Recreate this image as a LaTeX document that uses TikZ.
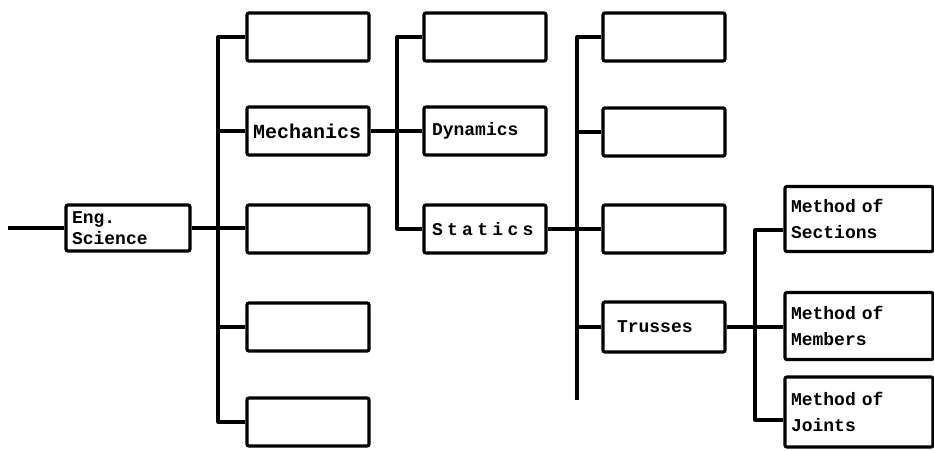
\documentclass[tikz,border=0pt]{standalone}
\usepackage{fontspec}
\setmonofont{Liberation Mono}
\begin{document}
\begin{tikzpicture}[x=1pt,y=-1pt,
  box/.style={draw, line width=3.2pt, rounded corners=2pt, inner xsep=6pt, inner ysep=2pt,
    align=left, font=\ttfamily\bfseries\fontsize{18}{21}\selectfont, minimum height=48pt},
  colbox/.style={box, text width=110pt},
  bigbox/.style={box, text width=136pt, font=\ttfamily\bfseries\fontsize{18}{26}\selectfont},
  link/.style={line width=3.2pt, line join=round, line cap=butt}]
\useasboundingbox (0,0) rectangle (934,450);

% nodes
\node[box, text width=112pt, minimum height=46pt] (eng) at (128,228) {\raisebox{-4pt}{\parbox[b]{112pt}{Eng.\\Science}}};

\node[colbox] (c1a) at (308,37) {};
\node[colbox, font=\ttfamily\bfseries\fontsize{20}{22}\selectfont] (c1b) at (308,131) {Mechanics};
\node[colbox] (c1c) at (308,229) {};
\node[colbox] (c1d) at (308,327) {};
\node[colbox] (c1e) at (308,422) {};

\node[colbox] (c2a) at (485,37) {};
\node[colbox] (c2b) at (485,131) {\hspace*{2pt}Dynamics};
\node[colbox, font=\ttfamily\bfseries\fontsize{18}{22}\selectfont\addfontfeature{LetterSpace=24}] (c2c) at (485,229) {\hspace*{2pt}Statics};

\node[colbox] (c3a) at (664,37) {};
\node[colbox] (c3b) at (664,132) {};
\node[colbox] (c3c) at (664,229) {};
\node[colbox, minimum height=50pt] (c3d) at (664,327) {\hspace*{8pt}Trusses};

\node[bigbox, minimum height=65pt] (c4a) at (859,219) {Method of\\Sections};
\node[bigbox, minimum height=67pt] (c4b) at (859,326) {Method of\\Members};
\node[bigbox, minimum height=70pt] (c4c) at (859,412) {Method of\\Joints};

% bus coordinates
\coordinate (start) at (8,228);
\coordinate (b1) at (218,0);
\coordinate (b2) at (397,0);
\coordinate (b3) at (577,0);
\coordinate (b3end) at (577,400);
\coordinate (b4) at (755,0);

% connectors level 1
\draw[link] (start) -- (eng.west);
\draw[link] (eng.east) -- (eng.east -| c1c.west);
\draw[link] (c1a.west) -- (c1a.west -| b1) -- (c1e.west -| b1) -- (c1e.west);
\draw[link] (c1b.west) -- (c1b.west -| b1);
\draw[link] (c1d.west) -- (c1d.west -| b1);

% level 2
\draw[link] (c1b.east) -- (c2b.west);
\draw[link] (c2a.west) -- (c2a.west -| b2) -- (c2c.west -| b2) -- (c2c.west);

% level 3
\draw[link] (c2c.east) -- (c3c.west);
\draw[link] (c3a.west) -- (c3a.west -| b3) -- (b3end);
\draw[link] (c3b.west) -- (c3b.west -| b3);
\draw[link] (c3d.west) -- (c3d.west -| b3);

% level 4
\draw[link] (c3d.east) -- (c3d.east -| c4b.west);
\draw[link] ([yshift=-11pt]c4a.west) -- ([yshift=-11pt]c4a.west -| b4) -- ([yshift=-8pt]c4c.west -| b4) -- ([yshift=-8pt]c4c.west);
\end{tikzpicture}
\end{document}
